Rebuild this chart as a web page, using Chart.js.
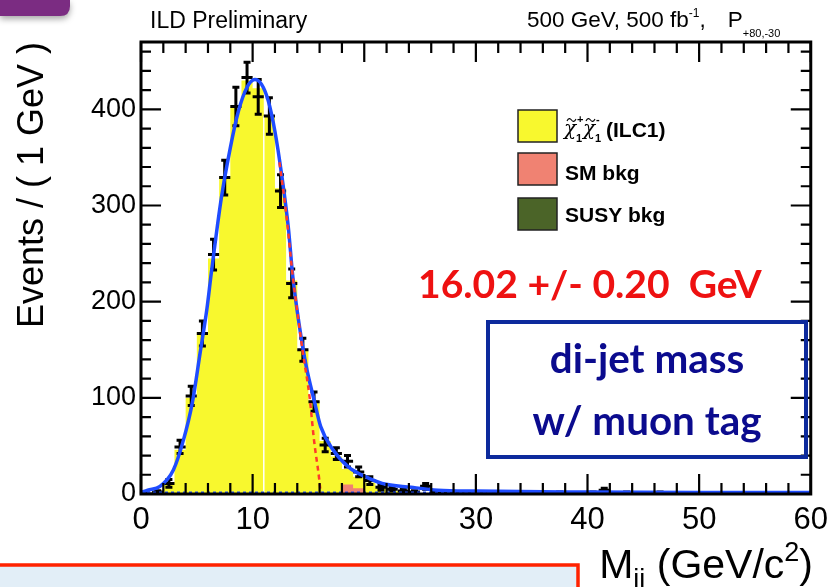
<!DOCTYPE html>
<html>
<head>
<meta charset="utf-8">
<script src="https://cdn.jsdelivr.net/npm/chart.js@4.4.1/dist/chart.umd.min.js"></script>
<style>
  html, body { margin: 0; padding: 0; background: #fff; }
  #wrap { position: relative; width: 836px; height: 587px; }
</style>
</head>
<body>
<div id="wrap"><canvas id="chart"></canvas></div>
<script>
// ---- data (1 GeV bins, 0 - 60 GeV) ----
const binLow = [0, 1, 2, 3, 4, 5, 6, 7, 8, 9, 10, 11, 12, 13, 14, 15, 16, 17, 18, 19,
  20, 21, 22, 23, 24, 25, 26, 27, 28, 29, 30, 31, 32, 33, 34, 35, 36, 37, 38, 39,
  40, 41, 42, 43, 44, 45, 46, 47, 48, 49, 50, 51, 52, 53, 54, 55, 56, 57, 58, 59];
const binWidth = 1;

// black points (pseudo data)
const dataCounts = [0, 2, 11, 49, 102, 167, 249, 329, 403, 433, 413, 393, 315, 219, 150, 96, 51, 42, 34, 23,
  14, 7, 5, 3, 2, 8, 2, 1, 1, 0, 1, 0, 1, 0, 1, 0, 0, 1, 0, 0,
  1, 4, 0, 1, 0, 0, 1, 0, 0, 0, 0, 0, 0, 0, 0, 0, 0, 0, 0, 0];
const dataErrors = [1, 1.5, 4, 7, 10, 13, 16, 18, 20, 16, 18, 19, 17, 15, 12, 10, 7, 6, 6, 5,
  4, 3, 2, 2, 1.5, 3, 1.5, 1, 1, 1, 1, 1, 1, 1, 1, 1, 1, 1, 1, 1,
  1, 2, 1, 1, 1, 1, 1, 1, 1, 1, 1, 1, 1, 1, 1, 1, 1, 1, 1, 1];

// stacked MC histograms
const signalCounts = [1, 3, 12, 46, 100, 168, 245, 330, 403, 430, 422, 393, 318, 222, 150, 97, 55, 39, 16, 12,
  11, 6, 3, 2, 1, 1, 0, 0, 0, 0, 0, 0, 0, 0, 0, 0, 0, 0, 0, 0,
  0, 0, 0, 0, 0, 0, 0, 0, 0, 0, 0, 0, 0, 0, 0, 0, 0, 0, 0, 0];
const smBkgCounts = [0, 0, 0, 0, 0, 0, 0, 0, 0, 0, 0, 0, 0, 0, 0, 0, 0, 0, 10, 6,
  1, 0, 0, 0, 0, 0, 0, 0, 0, 0, 0, 0, 0, 0, 0, 0, 0, 0, 0, 0,
  0, 0, 0, 0, 0, 0, 0, 0, 0, 0, 0, 0, 0, 0, 0, 0, 0, 0, 0, 0];
const susyBkgCounts = [0, 0, 0, 0, 0, 0, 0, 0, 0, 0, 0, 0, 0, 0, 0, 0, 0, 0, 0, 0,
  0, 0, 0, 0, 0, 0, 0, 0, 0, 0, 0, 0, 0, 0, 0, 0, 0, 0, 0, 0,
  0, 0, 0, 0, 0, 0, 0, 0, 0, 0, 0, 0, 0, 0, 0, 0, 0, 0, 0, 0];
const gapEdge = 11;   // thin white line inside the yellow histogram

// fitted curves
const fitX = [0, 0.6, 1.7, 2.9, 3.8, 4.6, 5.3, 5.9, 6.3, 7.2, 8.0, 8.7, 9.5, 10.2, 10.8, 11.4, 12.0, 12.6,
  13.2, 13.6, 14.2, 14.8, 15.5, 16.1, 17.2, 18.6, 20.1, 21.6, 24.2, 26.6, 30, 40, 50, 60];
const fitY = [1.5, 4, 8, 25, 56, 95, 147, 192, 230, 308, 360, 397, 423, 431, 426, 409, 377, 332,
  277, 226, 174, 133, 98, 70, 46, 28, 18, 11, 7, 4, 3, 2, 1.5, 1.5];
const signalFitX = [12.4, 13.0, 13.6, 14.0, 14.5, 15.1, 15.5, 15.97, 16.1];
const signalFitY = [345, 292, 226, 190, 147, 101, 56, 15, 0];
const bkgFitX = [0, 60];
const bkgFitY = [1.5, 1.5];

const xTickLabels = [0, 10, 20, 30, 40, 50, 60];
const yTickLabels = [0, 100, 200, 300, 400];
const legendLabels = ['(ILC1)', 'SM bkg', 'SUSY bkg'];

// ---- styles ----
const FONT = '"Liberation Sans", Arial, Helvetica, sans-serif';
const SLIDE_FONT = 'Lato, "Open Sans", sans-serif';
const YELLOW = '#f8f82e';
const PINK = '#f08272';
const OLIVE = '#4b6428';
const BLUE = '#1f4cff';
const RED = '#ff3a2a';

function histPoints(counts) {
  const pts = binLow.map((x, i) => ({ x: x, y: counts[i] }));
  pts.push({ x: binLow[binLow.length - 1] + binWidth, y: counts[counts.length - 1] });
  return pts;
}
function curvePoints(xs, ys) {
  return xs.map((x, i) => ({ x: x, y: ys[i] }));
}

const totalCounts = signalCounts.map((v, i) => v + smBkgCounts[i] + susyBkgCounts[i]);
const smStack = smBkgCounts.map((v, i) => v + susyBkgCounts[i]);
const gapTop = Math.min(totalCounts[gapEdge - 1], totalCounts[gapEdge]);

const DATA_IDX = 4;

// draws a list of [text, font, dy, optional fixed x] pieces one after another
function drawPieces(ctx, pieces, x, y) {
  pieces.forEach(p => {
    ctx.font = p[1];
    const px = p.length > 3 ? p[3] : x;
    ctx.fillText(p[0], px, y + p[2]);
    x = px + ctx.measureText(p[0]).width;
  });
  return x;
}

function fitText(ctx, text, weight, family, width) {
  ctx.font = weight + ' 100px ' + family;
  const s = 100 * width / ctx.measureText(text).width;
  ctx.font = weight + ' ' + s.toFixed(1) + 'px ' + family;
}

const decorPlugin = {
  id: 'decor',
  beforeDraw(chart) {
    const ctx = chart.ctx;
    ctx.save();
    ctx.fillStyle = '#fff';
    ctx.fillRect(0, 0, chart.width, chart.height);
    ctx.restore();
  },
  afterDatasetDraw(chart, args) {
    if (args.index !== DATA_IDX) return;
    const ctx = chart.ctx;
    const xs = chart.scales.x, ys = chart.scales.y;
    const area = chart.chartArea;
    ctx.save();
    ctx.beginPath();
    ctx.rect(area.left, area.top, area.right - area.left, area.bottom - area.top);
    ctx.clip();
    ctx.strokeStyle = '#000';
    ctx.lineWidth = 3;
    dataCounts.forEach((v, i) => {
      const x0 = xs.getPixelForValue(binLow[i]);
      const x1 = xs.getPixelForValue(binLow[i] + binWidth);
      const xc = (x0 + x1) / 2;
      const yc = ys.getPixelForValue(v);
      const yTop = ys.getPixelForValue(v + dataErrors[i]);
      const yBot = ys.getPixelForValue(Math.max(0, v - dataErrors[i]));
      ctx.beginPath();
      ctx.moveTo(x0, yc); ctx.lineTo(x1, yc);
      ctx.moveTo(xc, yTop); ctx.lineTo(xc, yBot);
      ctx.moveTo(xc - 3.5, yTop); ctx.lineTo(xc + 3.5, yTop);
      ctx.moveTo(xc - 3.5, yBot); ctx.lineTo(xc + 3.5, yBot);
      ctx.stroke();
    });
    ctx.restore();
  },
  afterDraw(chart) {
    const ctx = chart.ctx;
    const xs = chart.scales.x, ys = chart.scales.y;
    const a = chart.chartArea;
    ctx.save();

    // inward ticks on all four sides
    ctx.strokeStyle = '#000';
    ctx.lineWidth = 2.2;
    ctx.beginPath();
    for (let v = 0; v <= 60; v += 2) {
      const px = xs.getPixelForValue(v);
      const len = v % 10 === 0 ? 20 : 11;
      ctx.moveTo(px, a.bottom); ctx.lineTo(px, a.bottom - len);
      ctx.moveTo(px, a.top); ctx.lineTo(px, a.top + len);
    }
    for (let v = 0; v <= 460; v += 20) {
      const py = ys.getPixelForValue(v);
      const len = v % 100 === 0 ? 20 : 10;
      ctx.moveTo(a.left, py); ctx.lineTo(a.left + len, py);
      ctx.moveTo(a.right, py); ctx.lineTo(a.right - len, py);
    }
    ctx.stroke();

    // frame
    ctx.lineWidth = 3;
    ctx.strokeRect(a.left, a.top, a.right - a.left, a.bottom - a.top);

    ctx.fillStyle = '#000';
    ctx.textBaseline = 'alphabetic';

    // y axis title
    ctx.save();
    ctx.translate(43, a.top);
    ctx.rotate(-Math.PI / 2);
    ctx.textAlign = 'right';
    ctx.font = '36px ' + FONT;
    ctx.fillText('Events / ( 1 GeV )', 0, 0);
    ctx.restore();

    // x axis title  M_jj (GeV/c^2)
    ctx.textAlign = 'left';
    const big = '41px ' + FONT, small = '27px ' + FONT;
    const parts = [
      ['M', big, 0], ['jj', small, 10], [' (GeV/c', big, 0], ['2', small, -17], [')', big, 0]
    ];
    let total = 0;
    parts.forEach(p => { ctx.font = p[1]; total += ctx.measureText(p[0]).width; });
    drawPieces(ctx, parts, 813 - total, 578);

    // header texts
    ctx.font = '23px ' + FONT;
    ctx.fillText('ILD Preliminary', 150, 28);
    const head = '22.5px ' + FONT, tiny = '12px ' + FONT;
    let hx = drawPieces(ctx, [['500 GeV, 500 fb', head, 0], ['-1', tiny, -10], [',', head, 0]], 527, 27);
    drawPieces(ctx, [['P', head, 0, hx + 22], ['+80,-30', '11px ' + FONT, 10]], hx, 27);

    // legend
    const boxes = [[110, YELLOW], [153, PINK], [198, OLIVE]];
    boxes.forEach(b => {
      ctx.fillStyle = b[1];
      ctx.fillRect(518, b[0], 39, 32);
      ctx.strokeStyle = '#222';
      ctx.lineWidth = 1.5;
      ctx.strokeRect(518, b[0], 39, 32);
    });
    ctx.fillStyle = '#000';
    ctx.font = 'bold 21px ' + FONT;
    ctx.fillText(legendLabels[1], 565, 180);
    ctx.fillText(legendLabels[2], 565, 222);
    // chargino pair symbol
    let cx = 564;
    ['+', '-'].forEach(sign => {
      ctx.font = 'italic 20px "DejaVu Serif", serif';
      ctx.fillText('\u03c7', cx, 135);
      // tilde
      ctx.strokeStyle = '#000';
      ctx.lineWidth = 1.1;
      ctx.beginPath();
      ctx.moveTo(cx + 3, 121);
      ctx.bezierCurveTo(cx + 4.5, 118, cx + 6, 118, cx + 7.5, 120);
      ctx.bezierCurveTo(cx + 9, 122, cx + 10.5, 122, cx + 12, 119);
      ctx.stroke();
      ctx.font = 'bold 11px ' + FONT;
      ctx.fillText(sign, cx + 13, 123);
      ctx.fillText('1', cx + 12, 142);
      cx += 19;
    });
    ctx.font = 'bold 21px ' + FONT;
    ctx.fillText(legendLabels[0], 606, 137);

    // fitted mass
    ctx.fillStyle = '#ee1111';
    fitText(ctx, '16.02 +/- 0.20  GeV', 'bold', SLIDE_FONT, 344);
    ctx.fillText('16.02 +/- 0.20  GeV', 418, 298);

    // blue box
    ctx.strokeStyle = '#0d2a9c';
    ctx.lineWidth = 4;
    ctx.strokeRect(488, 322, 318, 135);
    ctx.fillStyle = '#0b0b8e';
    ctx.textAlign = 'center';
    fitText(ctx, 'w/ muon tag', 'bold', SLIDE_FONT, 229);
    ctx.fillText('di-jet mass', 647, 373);
    ctx.fillText('w/ muon tag', 647, 435);

    // slide decorations
    ctx.textAlign = 'left';
    ctx.shadowColor = 'rgba(0,0,0,0.35)';
    ctx.shadowBlur = 6;
    ctx.shadowOffsetY = 3;
    ctx.fillStyle = '#7b2c82';
    ctx.beginPath();
    ctx.moveTo(0, 0); ctx.lineTo(70, 0); ctx.lineTo(70, 6);
    ctx.quadraticCurveTo(70, 16, 60, 16); ctx.lineTo(0, 16);
    ctx.closePath();
    ctx.fill();
    ctx.shadowColor = 'transparent';
    ctx.fillStyle = '#e2eef7';
    ctx.fillRect(-5, 565, 583, 40);
    ctx.strokeStyle = '#ff2200';
    ctx.lineWidth = 3.5;
    ctx.strokeRect(-5, 565, 583, 40);
    ctx.restore();
  }
};

new Chart(document.getElementById('chart'), {
  type: 'line',
  data: {
    datasets: [
      { label: 'total', data: histPoints(totalCounts), stepped: true, fill: 'origin',
        backgroundColor: YELLOW, borderWidth: 0, borderColor: YELLOW, order: 10 },
      { label: 'SM bkg', data: histPoints(smStack), stepped: true, fill: 'origin',
        backgroundColor: PINK, borderWidth: 0, borderColor: PINK, order: 9 },
      { label: 'SUSY bkg', data: histPoints(susyBkgCounts), stepped: true, fill: 'origin',
        backgroundColor: OLIVE, borderWidth: 0, borderColor: OLIVE, order: 8 },
      { label: 'gap', data: [{ x: gapEdge, y: 0 }, { x: gapEdge, y: gapTop }],
        borderColor: '#ffffff', borderWidth: 1.5, order: 7 },
      { label: 'data', data: dataCounts.map((v, i) => ({ x: binLow[i] + binWidth / 2, y: v })),
        showLine: false, pointRadius: 0, order: 6 },
      { label: 'bkg fit', data: curvePoints(bkgFitX, bkgFitY), borderColor: BLUE,
        borderWidth: 2, borderDash: [3, 3], order: 5 },
      { label: 'fit', data: curvePoints(fitX, fitY), borderColor: BLUE, borderWidth: 3.5,
        cubicInterpolationMode: 'monotone', order: 4 },
      { label: 'signal fit', data: curvePoints(signalFitX, signalFitY), borderColor: RED,
        borderWidth: 2.5, borderDash: [5, 4], cubicInterpolationMode: 'monotone', order: 3 }
    ]
  },
  options: {
    responsive: true,
    maintainAspectRatio: false,
    animation: false,
    devicePixelRatio: 1,
    layout: { padding: { top: 42, right: 20, left: 0, bottom: 0 } },
    elements: { point: { radius: 0 } },
    plugins: { legend: { display: false }, tooltip: { enabled: false } },
    scales: {
      x: {
        type: 'linear', min: 0, max: 60,
        grid: { display: false, drawTicks: false }, border: { display: false },
        ticks: { font: { family: FONT, size: 31 }, color: '#000', padding: 8, autoSkip: false, maxRotation: 0 },
        afterBuildTicks: s => { s.ticks = xTickLabels.map(v => ({ value: v })); },
        afterFit: s => { s.height = 93; }
      },
      y: {
        type: 'linear', min: 0, max: 470,
        grid: { display: false, drawTicks: false }, border: { display: false },
        ticks: { font: { family: FONT, size: 27 }, color: '#000', padding: 5 },
        afterBuildTicks: s => { s.ticks = yTickLabels.map(v => ({ value: v })); },
        afterFit: s => { s.width = 141; }
      }
    }
  },
  plugins: [decorPlugin]
});
</script>
</body>
</html>
